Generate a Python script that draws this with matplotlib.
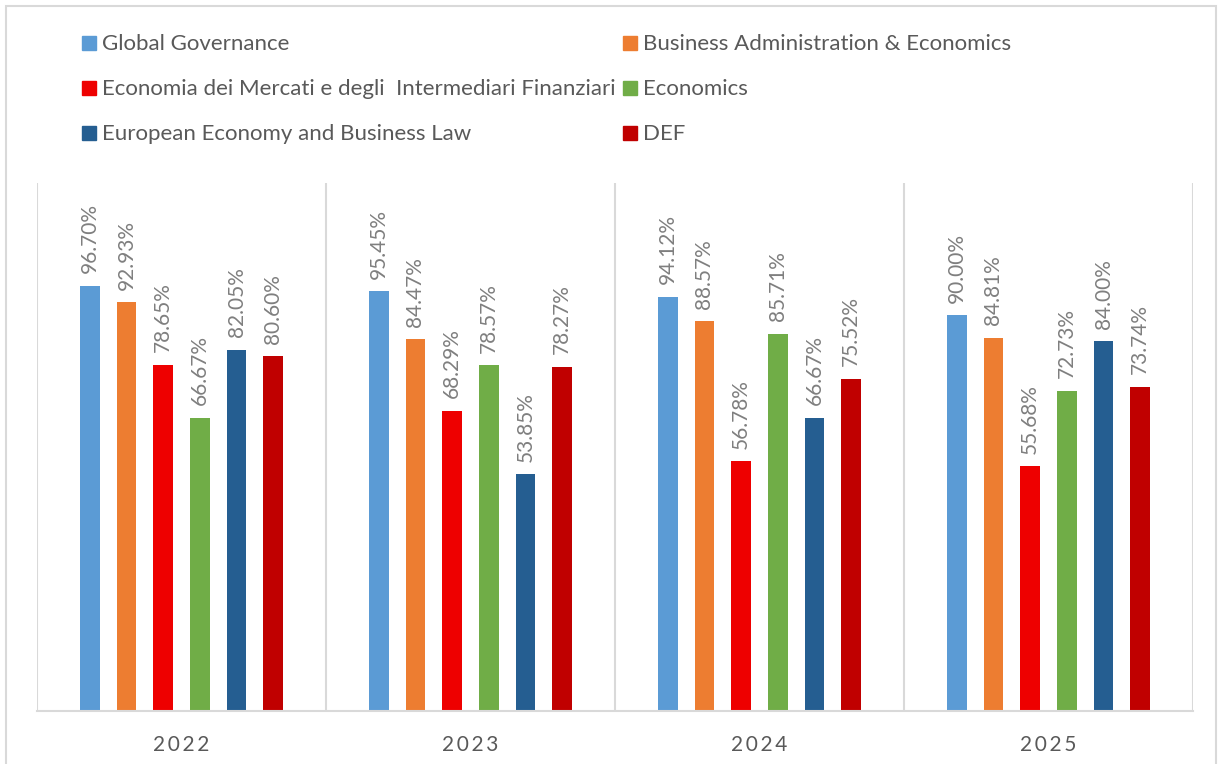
import matplotlib
matplotlib.use("Agg")
import matplotlib.pyplot as plt
from matplotlib.patches import Rectangle
import numpy as np

plt.rcParams['font.family'] = ['Lato', 'DejaVu Sans']

years = ["2022", "2023", "2024", "2025"]
series = [
    "Global Governance",
    "Business Administration & Economics",
    "Economia dei Mercati e degli  Intermediari Finanziari",
    "Economics",
    "European Economy and Business Law",
    "DEF",
]
global_gov = [96.70, 95.45, 94.12, 90.00]
bus_admin = [92.93, 84.47, 88.57, 84.81]
economia = [78.65, 68.29, 56.78, 55.68]
economics = [66.67, 78.57, 85.71, 72.73]
european = [82.05, 53.85, 66.67, 84.00]
def_vals = [80.60, 78.27, 75.52, 73.74]
values = [global_gov, bus_admin, economia, economics, european, def_vals]
colors = ["#5B9BD5", "#ED7D31", "#EE0000", "#70AD47", "#255E91", "#C00000"]

W, H = 1219, 764
fig = plt.figure(figsize=(W / 100, H / 100), dpi=100)
ax = fig.add_axes([37 / W, 1 - 711 / H, (1193 - 37) / W, (711 - 183) / H])

n = len(series)
spacing = 0.127
width = 0.068
x = np.arange(len(years))
for i, (name, vals, c) in enumerate(zip(series, values, colors)):
    pos = x + (i - (n - 1) / 2) * spacing
    bars = ax.bar(pos, vals, width=width, color=c, label=name, zorder=2)
    for b, v in zip(bars, vals):
        ax.annotate(f"{v:.2f}%", (b.get_x() + b.get_width() / 2, v),
                    xytext=(0, 9), textcoords="offset points",
                    rotation=90, ha="center", va="bottom",
                    fontsize=15, color="#7F7F7F")

ax.set_xlim(-0.5, len(years) - 0.5)
ax.set_ylim(0, 120)
for s in ["top", "right", "left"]:
    ax.spines[s].set_visible(False)
ax.spines["bottom"].set_color("#D9D9D9")
ax.spines["bottom"].set_linewidth(1.5)
for b in np.arange(len(years) + 1) - 0.5:
    ax.axvline(b, color="#D9D9D9", lw=1.5, zorder=1)
ax.set_yticks([])
ax.set_xticks(x)
ax.set_xticklabels(["\u2009".join(y) for y in years], fontsize=15, color="#595959")
ax.tick_params(axis="x", length=0, pad=17)

# legend (row-wise, two columns)
col_x = [82, 623]
row_y = [43, 88, 133]
for i, (name, c) in enumerate(zip(series, colors)):
    r, col = i // 2, i % 2
    xm, ym = col_x[col], row_y[r]
    fig.patches.append(Rectangle((xm / W, 1 - (ym + 7) / H), 14 / W, 14 / H,
                                 transform=fig.transFigure, color=c, figure=fig))
    fig.text((xm + 20) / W, 1 - (ym + 1) / H, name, fontsize=16, color="#595959",
             va="center", ha="left")

# outer frame
fig.patches.append(Rectangle((6 / W, -0.1), (1216 - 6) / W, 1 - 6 / H + 0.1,
                             transform=fig.transFigure, fill=False,
                             edgecolor="#D9D9D9", lw=1.5, figure=fig))

fig.savefig("out.png", dpi=100)
